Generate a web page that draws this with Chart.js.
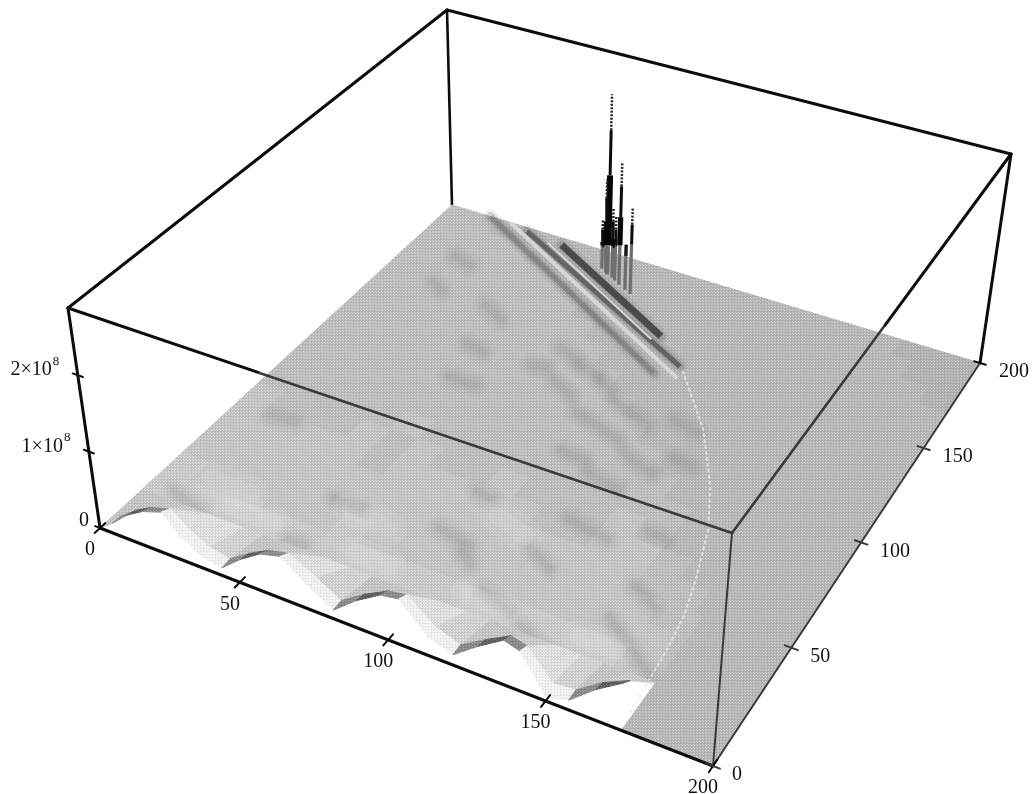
<!DOCTYPE html>
<html>
<head>
<meta charset="utf-8">
<title>Surface</title>
<style>
 html, body { margin: 0; padding: 0; background: #fff; }
 canvas { display: block; }
</style>
<script src="https://cdn.jsdelivr.net/npm/chart.js@4/dist/chart.umd.js"></script>
</head>
<body>
<canvas id="surfaceChart" width="1033" height="794"></canvas>
<script>
// axis values and labels
var xTicks = [0, 50, 100, 150, 200];
var yTicks = [0, 50, 100, 150, 200];
var zTicks = [0, 1e8, 2e8];
var xTickLabels = ['0', '50', '100', '150', '200'];
var yTickLabels = ['0', '50', '100', '150', '200'];
var zTickLabels = ['0', '1\u00d710', '2\u00d710'];
var zTop = 2.88e8;

// where the box corners sit on the page: origin, x end, far corner, y end
var floorCorners = [[100, 528], [713, 766], [980, 363], [452, 205]];
var roofCorners = [[68, 308], [732, 533], [1011, 154], [447, 10]];

// shade of the surface cells, one row per y band
var gridX = [0, 10, 20, 30, 40, 50, 60, 70, 80, 90, 100, 110, 120, 130, 140, 150, 160, 170, 173, 180, 190, 200];
var gridY = [0, 10, 20, 30, 40, 50, 60, 70, 80, 90, 100, 110, 120, 130, 140, 150, 160, 170, 180, 190, 200];
var gridShade = [
 '..................333',
 '..................333',
 '666666666666666654333',
 '655555655555555554333',
 '555555555555555544333',
 '555555555555555443333',
 '555554555554455433333',
 '544454544544454333333',
 '444445444444444333333',
 '444444444444443333333',
 '444444444444433333333',
 '444444444444333333333',
 '444444444443333333333',
 '444444444433333333333',
 '444444444333333333333',
 '444444443333333333333',
 '444444433333333333333',
 '444444333333333333332',
 '444433333333333333322',
 '443333333333333333222'
];

// scalloped front of the surface, heights in units of 1e8
var frontX = [0, 5, 11, 17, 24, 30, 37, 44, 51, 58, 65, 74, 82, 90, 98, 104, 113, 121, 129, 137, 142, 150, 157, 165, 173];
var frontZ = [0, .13, .32, .45, .54, .31, .15, .10, .31, .48, .55, .30, .11, .35, .54, .58, .24, .13, .36, .56, .50, .06, .12, .38, .59];
var midZ = [0, .12, .28, .40, .48, .30, .16, .11, .28, .42, .48, .30, .12, .32, .48, .52, .25, .14, .33, .50, .45, .10, .13, .35, .50];
var frontRowY = 0, midRowY = 4, backRowY = 20;
var frontShade = '5bab' + '999' + 'bab' + '99' + 'bab' + '99' + 'bab' + '99' + 'ba';
var midShade = '5556' + '887' + '556' + '87' + '556' + '87' + '556' + '87' + '56';

// darker ripples on the surface: x1, y1, x2, y2
var ripples = [
 [72, 130, 77, 131], [76, 143, 84, 139], [87, 137, 94, 135], [96, 133, 101, 130],
 [105, 126, 120, 119], [97, 115, 115, 109], [102, 96, 111, 95], [120, 104, 132, 99],
 [115, 90, 126, 88], [134, 109, 141, 108], [126, 126, 135, 124], [89, 67, 95, 66],
 [119, 69, 134, 66], [143, 75, 149, 74], [116, 52, 125, 47], [88, 47, 100, 45],
 [99, 41, 104, 38], [113, 30, 124, 26], [150, 52, 159, 47],
 [48, 130, 55, 129], [83, 126, 91, 122], [150, 37, 170, 22], [130, 22, 141, 17],
 [20, 155, 25, 152], [18, 172, 25, 170], [52, 112, 62, 112], [53, 44, 63, 44],
 [42, 152, 51, 147], [13, 68, 22, 69], [9, 24, 21, 20], [51, 22, 57, 22]
];
// paler smears on the near part of the surface
var paleSmears = [[28, 26, 44, 26], [72, 26, 84, 26], [110, 26, 122, 26], [146, 26, 158, 26], [15, 34, 30, 34], [60, 42, 75, 40], [100, 60, 112, 56]];

// long stripes running down from the spikes: x1, y1, x2, y2
var darkStripes = [[16, 200, 109, 145], [32, 198, 115, 152], [47, 196, 102, 164]];
var lightStripes = [[24, 200, 117, 146], [42, 195, 100, 161]];

// pale edge where the rippled part stops
var edgeX = [117, 125, 136, 143, 150, 158, 164, 168, 170, 172];
var edgeY = [150, 140, 126, 114, 102, 84, 64, 48, 33, 6];

// spikes, heights in units of 1e8; spikeCut is where the stem leaves the surface
var spikeX = [69.7, 75.9, 81.8, 68.3, 66.2, 73.5, 79.1, 71.8];
var spikeY = [187.5, 183.9, 180.8, 188.2, 189.8, 185.4, 182.2, 186.6];
var spikeZ = [2.58, 1.75, 1.23, 1.33, .7, .91, .6, 1.0];
var spikeCut = [.42, .56, .70, .39, .33, .51, .64, .45];

function solveCorners(c) {
 var dx1 = c[1][0] - c[2][0], dx2 = c[3][0] - c[2][0], sx = c[0][0] - c[1][0] + c[2][0] - c[3][0];
 var dy1 = c[1][1] - c[2][1], dy2 = c[3][1] - c[2][1], sy = c[0][1] - c[1][1] + c[2][1] - c[3][1];
 var den = dx1 * dy2 - dx2 * dy1;
 var g = (sx * dy2 - dx2 * sy) / den;
 var h = (dx1 * sy - sx * dy1) / den;
 return {
  a: c[1][0] - c[0][0] + g * c[1][0], b: c[3][0] - c[0][0] + h * c[3][0], c: c[0][0],
  d: c[1][1] - c[0][1] + g * c[1][1], e: c[3][1] - c[0][1] + h * c[3][1], f: c[0][1],
  g: g, h: h
 };
}
var floorView = solveCorners(floorCorners);
var roofView = solveCorners(roofCorners);

function onPlane(m, u, v) {
 var w = 1 + m.g * u + m.h * v;
 return [(m.a * u + m.b * v + m.c) / w, (m.d * u + m.e * v + m.f) / w];
}

// x, y, z of the plot to a point on the two page scales
function project(x, y, z) {
 var p = onPlane(floorView, x / 200, y / 200);
 var q = onPlane(roofView, x / 200, y / 200);
 var t = (z || 0) / zTop;
 return { x: p[0] + (q[0] - p[0]) * t, y: p[1] + (q[1] - p[1]) * t };
}

var grays = { a: 92, b: 135, '2': 175, '3': 180, '4': 186, '5': 192, '6': 198, '7': 206, '8': 218, '9': 236 };
var stipples = {};
function stipple(ch) {
 if (stipples[ch]) return stipples[ch];
 var n = grays[ch];
 var tile = document.createElement('canvas');
 tile.width = 3; tile.height = 3;
 var t = tile.getContext('2d');
 t.fillStyle = 'rgb(' + n + ',' + n + ',' + n + ')';
 t.fillRect(0, 0, 3, 3);
 var hi = Math.min(255, n + 26), lo = n - 14;
 t.fillStyle = 'rgb(' + hi + ',' + hi + ',' + hi + ')';
 t.fillRect(0, 0, 1, 1); t.fillRect(1, 1, 1, 1);
 t.fillStyle = 'rgb(' + lo + ',' + lo + ',' + lo + ')';
 t.fillRect(2, 2, 1, 1);
 stipples[ch] = t.createPattern(tile, 'repeat');
 return stipples[ch];
}

var datasets = [];
function addLine(points, color, width, extra) {
 var set = {
  data: points, showLine: true, pointRadius: 0, borderColor: color, borderWidth: width,
  borderCapStyle: 'round', borderJoinStyle: 'round', tension: 0, fill: false, order: -datasets.length
 };
 for (var k in extra || {}) set[k] = extra[k];
 datasets.push(set);
}
function addCell(points, ch) {
 var pat = stipple(ch);
 addLine(points.concat([points[0]]), pat, 1, { fill: 'shape', backgroundColor: pat });
}
function addBar(s, color, width, extra) {
 addLine([project(s[0], s[1]), project(s[2], s[3])], color, width, extra);
}
function edge(a, b, color, width) {
 addLine([project(a[0], a[1], a[2]), project(b[0], b[1], b[2])], color, width);
}

// box edges behind the surface
var black = '#0c0c0c', overSurface = '#3a3a3a';
edge([0, 200, zTop], [0, 200, 0], black, 2.6);
edge([0, 0, zTop], [0, 200, zTop], black, 3);
edge([0, 200, zTop], [200, 200, zTop], black, 3);
edge([200, 200, zTop], [200, 200, 0], black, 3);

// flat cells, far ones first
for (var r = gridShade.length - 1; r >= 0; r--) {
 for (var c = 0; c < gridX.length - 1; c++) {
  var ch = gridShade[r][c];
  if (!ch || ch === '.') continue;
  addCell([project(gridX[c], gridY[r]), project(gridX[c + 1], gridY[r]),
   project(gridX[c + 1], gridY[r + 1]), project(gridX[c], gridY[r + 1])], ch);
 }
}

// ripples and stripes, soft wide passes then narrower
ripples.forEach(function (s) {
 addBar(s, 'rgba(60,60,60,0.03)', 24);
 addBar(s, 'rgba(60,60,60,0.045)', 16);
 addBar(s, 'rgba(60,60,60,0.05)', 8);
});
paleSmears.forEach(function (s) {
 addBar(s, 'rgba(255,255,255,0.07)', 34);
 addBar(s, 'rgba(255,255,255,0.09)', 18);
});
darkStripes.forEach(function (s, i) {
 addBar(s, 'rgba(70,70,70,0.07)', 15);
 addBar(s, 'rgba(70,70,70,0.18)', 9);
 addBar(s, ['rgba(90,90,90,0.35)', 'rgba(80,80,80,0.75)', 'rgba(60,60,60,0.85)'][i], [5, 5, 7][i], { borderCapStyle: 'butt' });
});
lightStripes.forEach(function (s, i) {
 addBar(s, '#d6d6d6', [4, 2][i], { borderCapStyle: 'butt' });
});
addLine(edgeX.map(function (x, i) { return project(x, edgeY[i]); }), 'rgba(236,236,236,0.75)', 2, { borderDash: [2, 4] });

// scalloped front strips, back strip first
for (var i = 0; i < frontX.length - 1; i++) {
 addCell([project(frontX[i], backRowY), project(frontX[i + 1], backRowY),
  project(frontX[i + 1], midRowY, midZ[i + 1] * 1e8), project(frontX[i], midRowY, midZ[i] * 1e8)], midShade[i]);
}
for (i = 0; i < frontX.length - 1; i++) {
 addCell([project(frontX[i], midRowY, midZ[i] * 1e8), project(frontX[i + 1], midRowY, midZ[i + 1] * 1e8),
  project(frontX[i + 1], frontRowY, frontZ[i + 1] * 1e8), project(frontX[i], frontRowY, frontZ[i] * 1e8)], frontShade[i]);
}

// spikes
spikeX.forEach(function (x, i) {
 var y = spikeY[i], z = spikeZ[i] * 1e8, cut = spikeCut[i] * 1e8;
 addLine([project(x, y, 0), project(x, y, cut)], '#6e6e6e', 3.2, { borderCapStyle: 'butt' });
 addLine([project(x, y, cut), project(x, y, Math.max(cut, z * 0.55))], '#060606', 3.2 + spikeZ[i] * 1.1, { borderCapStyle: 'butt' });
 addLine([project(x, y, Math.max(cut, z * 0.55)), project(x, y, z * 0.8)], '#0c0c0c', 3, { borderCapStyle: 'butt' });
 addLine([project(x, y, z * 0.8), project(x, y, z)], '#222', 2.5, { borderCapStyle: 'butt', borderDash: [2, 1.5] });
});

// box edges in front of the surface
edge([0, 0, 0], [0, 0, zTop], black, 3);
edge([0, 0, 0], [200, 0, 0], black, 3);
edge([0, 0, zTop], [63, 0, zTop], black, 3);
edge([63, 0, zTop], [200, 0, zTop], overSurface, 2.6);
edge([200, 0, zTop], [200, 98, zTop], overSurface, 2.6);
edge([200, 98, zTop], [200, 200, zTop], black, 3);
edge([200, 0, 0], [200, 0, zTop], overSurface, 2);
edge([200, 0, 0], [200, 200, 0], overSurface, 2);

// tick marks
xTicks.forEach(function (v) { edge([v, -2.5, 0], [v, 2.5, 0], black, 2); });
yTicks.forEach(function (v) { edge([198, v, 0], [202, v, 0], v < 200 ? overSurface : black, 2); });
zTicks.forEach(function (v) { edge([-1.8, 0, v], [1.8, 0, v], black, 2); });

var tickText = {
 id: 'tickText',
 afterDatasetsDraw: function (chart) {
  var ctx = chart.ctx, sx = chart.scales.x, sy = chart.scales.y;
  function at(p) { return [sx.getPixelForValue(p.x), sy.getPixelForValue(p.y)]; }
  ctx.save();
  ctx.fillStyle = '#111';
  ctx.font = '20px "Liberation Serif"';
  ctx.textBaseline = 'middle';
  ctx.textAlign = 'center';
  xTicks.forEach(function (v, i) {
   var p = at(project(v, 0, 0));
   ctx.fillText(xTickLabels[i], p[0] - 10, p[1] + 22);
  });
  ctx.textAlign = 'left';
  yTicks.forEach(function (v, i) {
   var p = at(project(200, v, 0));
   ctx.fillText(yTickLabels[i], p[0] + 19, p[1] + 9);
  });
  ctx.textAlign = 'right';
  zTicks.forEach(function (v, i) {
   var p = at(project(0, 0, v));
   if (v === 0) {
    ctx.fillText(zTickLabels[i], p[0] - 11, p[1] - 7);
    return;
   }
   ctx.fillText(zTickLabels[i], p[0] - 26, p[1] - 5);
   ctx.save();
   ctx.font = '13px "Liberation Serif"';
   ctx.textAlign = 'left';
   ctx.fillText('8', p[0] - 25, p[1] - 14);
   ctx.restore();
  });
  ctx.restore();
 }
};

new Chart(document.getElementById('surfaceChart').getContext('2d'), {
 type: 'scatter',
 data: { datasets: datasets },
 options: {
  responsive: false,
  animation: false,
  events: [],
  layout: { padding: 0 },
  plugins: { legend: { display: false }, tooltip: { enabled: false } },
  scales: {
   x: { type: 'linear', display: false, min: 0, max: 1033 },
   y: { type: 'linear', display: false, min: 0, max: 794, reverse: true }
  }
 },
 plugins: [tickText]
});
</script>
</body>
</html>
